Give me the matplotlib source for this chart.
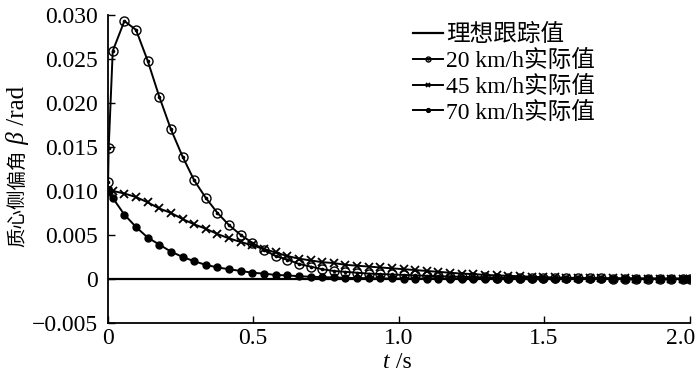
import matplotlib
matplotlib.use("Agg")
import matplotlib.pyplot as plt
from matplotlib.transforms import ScaledTranslation

plt.rcParams['font.family'] = ['Liberation Serif', 'Noto Sans CJK SC']
plt.rcParams['axes.unicode_minus'] = True

# time samples (s)
t = [0.0, 0.017, 0.057, 0.097, 0.137, 0.177, 0.217, 0.257, 0.297, 0.337,
     0.377, 0.417, 0.457, 0.497, 0.537, 0.577, 0.617, 0.657, 0.697, 0.737,
     0.777, 0.817, 0.857, 0.897, 0.937, 0.977, 1.017, 1.057, 1.097, 1.137,
     1.177, 1.217, 1.257, 1.297, 1.337, 1.377, 1.417, 1.457, 1.497, 1.537,
     1.577, 1.617, 1.657, 1.697, 1.737, 1.777, 1.817, 1.857, 1.897, 1.937,
     1.977, 2.0]
t20 = [0.0, 0.001, 0.003] + t[1:]

ideal_t = [0.0, 2.0]
ideal = [0.0, 0.0]

beta20 = [0.0100, 0.0110, 0.0149,
          0.0259, 0.0293, 0.0283, 0.0248, 0.0207, 0.0170, 0.0139, 0.0112, 0.0092,
          0.0075, 0.0061, 0.0050, 0.0041, 0.0033, 0.0026, 0.0022, 0.0017, 0.0014,
          0.0011, 0.0009, 0.0008, 0.0007, 0.0006, 0.00055, 0.0005, 0.00045, 0.0004,
          0.00035, 0.0003, 0.00027, 0.00024, 0.0002, 0.00018, 0.00015, 0.00013,
          0.00011, 0.0001, 0.00009, 0.00008, 0.00007, 0.00006, 0.00005, 0.00005,
          0.00004, 0.00004, 0.00003, 0.00003, 0.00003, 0.00002, 0.00002, 0.00002]

beta45 = [0.0100, 0.0100, 0.0097, 0.0093, 0.0087, 0.0080, 0.0075, 0.0068, 0.0062,
          0.0057, 0.0051, 0.0046, 0.0042, 0.0038, 0.0034, 0.0030, 0.0026, 0.0023,
          0.0021, 0.0019, 0.0018, 0.0016, 0.0015, 0.0014, 0.0013, 0.0012, 0.0011,
          0.0010, 0.0009, 0.0008, 0.0007, 0.0006, 0.00055, 0.00045, 0.0004,
          0.00035, 0.0003, 0.00025, 0.0002, 0.00016, 0.00013, 0.0001, 0.00008,
          0.00007, 0.00006, 0.00005, 0.00004, 0.00003, 0.00003, 0.00002, 0.00002,
          0.00002]

beta70 = [0.0100, 0.0092, 0.0073, 0.0059, 0.0047, 0.0039, 0.0031, 0.0025, 0.0020,
          0.0016, 0.0013, 0.0011, 0.0009, 0.0007, 0.0006, 0.00045, 0.0004, 0.0003,
          0.00025, 0.0002, 0.00017, 0.00012, 0.0001, 0.00008, 0.00006, 0.00005,
          0.00004, 0.00004, 0.00003, 0.00003, 0.00002, 0.00002, 0.00002, 0.00001,
          0.00001, 0.00001, 0.00001, 0.00001, 0.00001, 0.0, 0.0, 0.0, 0.0, 0.0,
          0.0, 0.0, 0.0, 0.0, 0.0, 0.0, 0.0, 0.0]

labels = ['理想跟踪值', '20 km/h实际值', '45 km/h实际值', '70 km/h实际值']
xticks = [0, 0.5, 1.0, 1.5, 2.0]
xticklabels = ['0', '0.5', '1.0', '1.5', '2.0']
yticks = [-0.005, 0, 0.005, 0.010, 0.015, 0.020, 0.025, 0.030]
yticklabels = ['\u22120.005', '0', '0.005', '0.010', '0.015', '0.020', '0.025', '0.030']

fs = 17

fig = plt.figure(figsize=(7, 3.72), dpi=100)
ax = fig.add_axes([0.154, 0.132, 0.831, 0.828])

h0, = ax.plot(ideal_t, ideal, color='black', lw=1.6)
h1, = ax.plot(t20, beta20, color='black', lw=1.4, marker='o', ms=6.5,
              mfc='none', mew=1.0)
h1b, = ax.plot(t20, beta20, ls='none', color='black', marker='o', ms=1.6)
h2, = ax.plot(t, beta45, color='black', lw=1.4, marker='x', ms=6, mew=1.3)
h3, = ax.plot(t, beta70, color='black', lw=1.4, marker='o', ms=5)

ax.set_xlim(0, 2.0)
ax.set_ylim(-0.005, 0.030)
ax.set_xticks(xticks)
ax.set_xticklabels(xticklabels)
ax.set_yticks(yticks)
ax.set_yticklabels(yticklabels)
ax.tick_params(axis='x', direction='in', length=5, width=1, pad=4, labelsize=fs)
ax.tick_params(axis='y', direction='in', length=5, width=1, pad=7, labelsize=fs)
ax.spines['top'].set_visible(False)
ax.spines['right'].set_visible(False)
ax.spines['left'].set_linewidth(1.3)
ax.spines['bottom'].set_linewidth(1.3)

# keep last x tick label inside the figure
last = ax.get_xticklabels()[-1]
last.set_transform(last.get_transform() + ScaledTranslation(-9 / 100, 0, fig.dpi_scale_trans))

ax.legend([h0, (h1, h1b), h2, h3], labels, loc='upper left',
          bbox_to_anchor=(0.508, 1.0), frameon=False,
          fontsize=fs, handlelength=1.3, handletextpad=0.1, labelspacing=0.16,
          markerscale=0.55, borderaxespad=0)

# y label: 质心侧偏角 β /rad
p1 = fig.text(0.025, 0.336, '质心侧偏角', rotation=90, ha='center', va='bottom',
              fontsize=14)
p2 = ax.annotate(' \u03b2', xy=(0.5, 1), xycoords=p1, rotation=90, ha='center',
                 va='bottom', fontsize=18, style='italic', annotation_clip=False)
ax.annotate(' /rad', xy=(0.5, 1), xycoords=p2, rotation=90, ha='center',
            va='bottom', fontsize=18, annotation_clip=False)

# x label: t /s
q1 = fig.text(0.547, 0.012, 't', ha='left', va='baseline', fontsize=17,
              style='italic')
ax.annotate(' /s', xy=(1, 0), xycoords=q1, ha='left', va='bottom', fontsize=17,
            annotation_clip=False)

plt.savefig('out.png', dpi=100)
plt.close()
